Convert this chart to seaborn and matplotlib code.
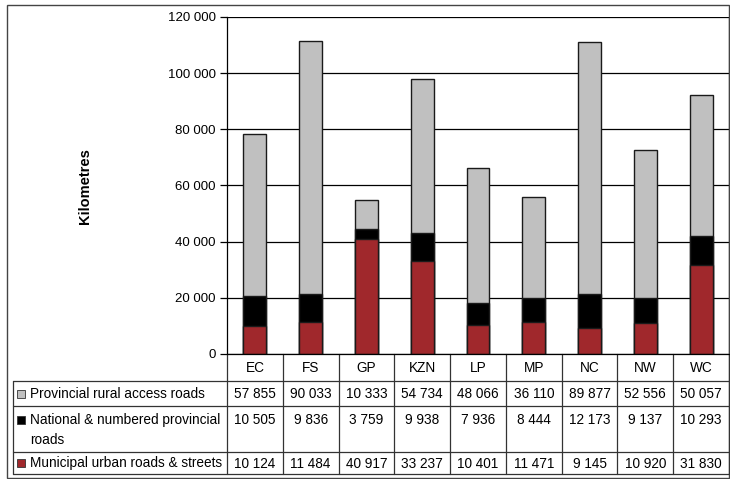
import matplotlib
matplotlib.use("Agg")
import matplotlib.pyplot as plt
import seaborn as sns
import numpy as np
import pandas as pd
from matplotlib.patches import Rectangle
from matplotlib.ticker import FuncFormatter

provinces = ["EC", "FS", "GP", "KZN", "LP", "MP", "NC", "NW", "WC"]
rural = [57855, 90033, 10333, 54734, 48066, 36110, 89877, 52556, 50057]
national = [10505, 9836, 3759, 9938, 7936, 8444, 12173, 9137, 10293]
municipal = [10124, 11484, 40917, 33237, 10401, 11471, 9145, 10920, 31830]
series_names = ["Provincial rural access roads",
                "National & numbered provincial\nroads",
                "Municipal urban roads & streets"]
colors = ["#C0C0C0", "#000000", "#A0282C"]

sns.set_theme(style="white")
plt.rcParams['font.family'] = ['Liberation Sans', 'DejaVu Sans']

W, H = 730, 479
fig = plt.figure(figsize=(W / 100, H / 100), dpi=100)

# pixel layout
ax_l, ax_r, ax_t, ax_b = 227, 729, 17, 354
ax = fig.add_axes([ax_l / W, 1 - ax_b / H, (ax_r - ax_l) / W, (ax_b - ax_t) / H])

df = pd.DataFrame({"prov": provinces,
                   "rural": rural, "national": national, "municipal": municipal})
df["top"] = df["municipal"] + df["national"] + df["rural"]
df["mid"] = df["municipal"] + df["national"]

for col, c in zip(["top", "mid", "municipal"], colors):
    sns.barplot(data=df, x="prov", y=col, color=c, width=0.41,
                edgecolor="#1a1a1a", linewidth=1.0, saturation=1, ax=ax, zorder=3)

ax.set_ylim(0, 120000)
ax.set_xlim(-0.5, len(provinces) - 0.5)
ax.set_yticks(np.arange(0, 120001, 20000))
ax.yaxis.set_major_formatter(FuncFormatter(lambda v, p: f"{int(v):,}".replace(",", " ")))
ax.grid(axis="y", color="black", linewidth=0.9, zorder=0)
ax.set_axisbelow(True)
ax.set_xticks([])
ax.set_xlabel("")
ax.set_ylabel("")
for s in ["top", "bottom"]:
    ax.spines[s].set_visible(False)
ax.spines["left"].set_color("black")
ax.spines["left"].set_linewidth(0.9)
ax.spines["right"].set_color("black")
ax.spines["right"].set_linewidth(0.9)
ax.tick_params(axis="y", left=True, length=5, width=0.9, color="black",
               labelsize=9.5, pad=3, labelcolor="black")

# overlay axes in pixel coordinates for table and frame
ov = fig.add_axes([0, 0, 1, 1], facecolor="none")
ov.set_xlim(0, W)
ov.set_ylim(H, 0)
ov.axis("off")

lc = "#333333"
lw = 0.9
# outer frame
ov.add_patch(Rectangle((7, 5), W - 7 - 1.2, H - 5 - 1.5, fill=False, edgecolor="#444444", lw=1.0))

ov.text(85, 186, "Kilometres", rotation=90, ha="center", va="center",
        fontsize=10.5, fontweight="bold", color="black")

n = len(provinces)
cw = (ax_r - ax_l) / n
col_x = [ax_l + i * cw for i in range(n + 1)]
header_b = 381
row_b = [406, 452, 474]
tab_l = 13
fs = 9.8

# header row
for i, p in enumerate(provinces):
    ov.text(ax_l + (i + 0.5) * cw, (ax_b + header_b) / 2 + 1, p, ha="center", va="center",
            fontsize=fs, color="black")
# vertical lines
for x in col_x:
    ov.plot([x, x], [ax_b, row_b[-1]], color=lc, lw=lw)
ov.plot([tab_l, tab_l], [header_b, row_b[-1]], color=lc, lw=lw)
# horizontal lines
ov.plot([ax_l, ax_r], [ax_b, ax_b], color="black", lw=lw)
for y in [header_b] + row_b:
    ov.plot([tab_l, ax_r], [y, y], color=lc, lw=lw)

tops = [header_b] + row_b[:-1]
for r, (vals, name, c) in enumerate(zip([rural, national, municipal], series_names, colors)):
    y0, y1 = tops[r], row_b[r]
    if r == 1:
        ty = y0 + 14
        ov.text(30, y0 + 7, name, ha="left", va="top", fontsize=fs,
                color="black", linespacing=1.5)
        ov.add_patch(Rectangle((17, ty - 4), 8, 8, facecolor=c, edgecolor="#333333", lw=0.6))
        for i, v in enumerate(vals):
            ov.text(ax_l + (i + 0.5) * cw, y0 + 7, f"{v:,}".replace(",", " "),
                    ha="center", va="top", fontsize=fs, color="black")
    else:
        ty = (y0 + y1) / 2
        ov.text(30, ty + 0.5, name, ha="left", va="center", fontsize=fs, color="black")
        ov.add_patch(Rectangle((17, ty - 4), 8, 8, facecolor=c, edgecolor="#333333", lw=0.6))
        for i, v in enumerate(vals):
            ov.text(ax_l + (i + 0.5) * cw, ty + 0.5, f"{v:,}".replace(",", " "),
                    ha="center", va="center", fontsize=fs, color="black")

fig.savefig("out.png", dpi=100, facecolor="white")
